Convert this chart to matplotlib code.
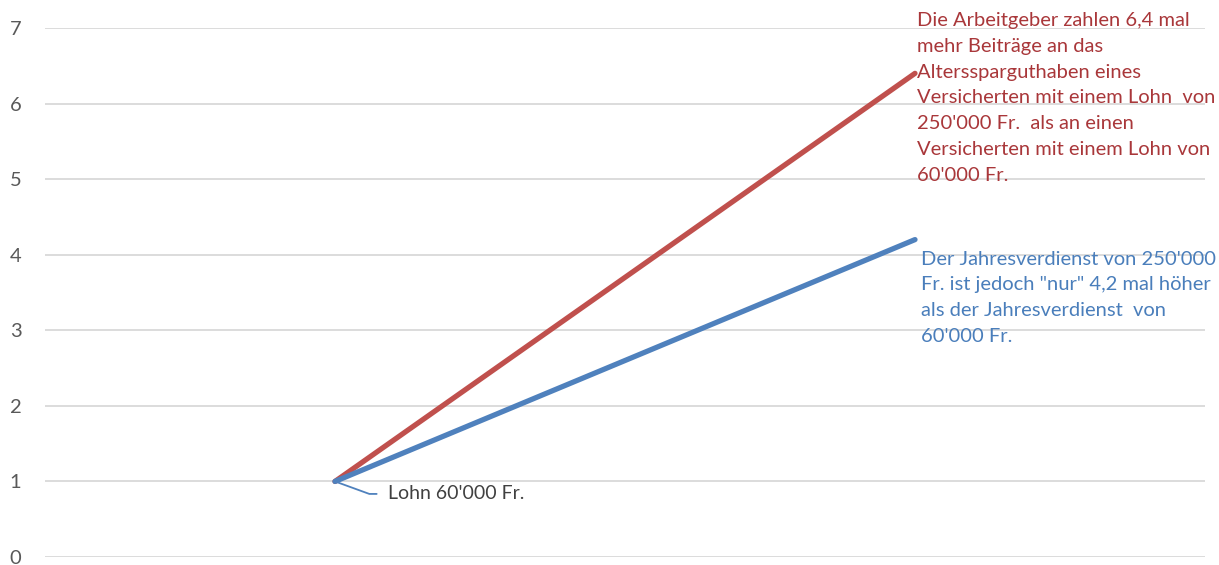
import matplotlib.pyplot as plt

# Zwei Lohnstufen, Verhältnis zum Lohn 60'000 Fr.
lohnstufen = ["Lohn 60'000 Fr.", "Lohn 250'000 Fr."]
beitraege_ag = [1.0, 6.4]
jahresverdienst = [1.0, 4.2]

text_rot = ("Die Arbeitgeber zahlen 6,4 mal\n"
            "mehr Beiträge an das\n"
            "Alterssparguthaben eines\n"
            "Versicherten mit einem Lohn  von\n"
            "250'000 Fr.  als an einen\n"
            "Versicherten mit einem Lohn von\n"
            "60'000 Fr.")
text_blau = ("Der Jahresverdienst von 250'000\n"
             "Fr. ist jedoch \"nur\" 4,2 mal höher\n"
             "als der Jahresverdienst  von\n"
             "60'000 Fr.")

ROT = '#C0504D'
BLAU = '#4F81BD'

plt.rcParams['font.family'] = ['Lato', 'DejaVu Sans']

fig = plt.figure(figsize=(12.19, 5.65), dpi=100)
ax = fig.add_axes([45 / 1219, 8 / 565, 1160 / 1219, 529 / 565])

x = list(range(len(lohnstufen)))
ax.plot(x, beitraege_ag, color=ROT, lw=3.8, solid_capstyle='round', zorder=3)
ax.plot(x, jahresverdienst, color=BLAU, lw=3.8, solid_capstyle='round', zorder=3)

ax.set_xlim(-0.5, 1.5)
ax.set_ylim(0, 7)
ax.set_yticks(range(0, 8))
ax.set_xticks([])
ax.grid(axis='y', color='#D9D9D9', lw=1.3)
ax.set_axisbelow(True)
for s in ax.spines.values():
    s.set_visible(False)
ax.tick_params(axis='y', length=0, pad=17, labelsize=14.5, labelcolor='#595959')

# Beschriftung des Startpunkts mit Führungslinie
ax.annotate(lohnstufen[0], xy=(x[0], beitraege_ag[0]), xytext=(38, -9),
            textcoords='offset points', fontsize=14, color='#404040',
            va='center', ha='left',
            arrowprops=dict(arrowstyle='-', color=BLAU, lw=1.3,
                            connectionstyle='angle,angleA=0,angleB=-20,rad=0',
                            shrinkA=6, shrinkB=0))

ax.text(0.7517, 1.031, text_rot, transform=ax.transAxes,
        fontsize=14.5, color='#A9373A', va='top', ha='left', linespacing=1.64)
ax.text(0.755, 0.579, text_blau, transform=ax.transAxes,
        fontsize=14.5, color='#4A7EBB', va='top', ha='left', linespacing=1.62)

fig.savefig('out.png', dpi=100)
